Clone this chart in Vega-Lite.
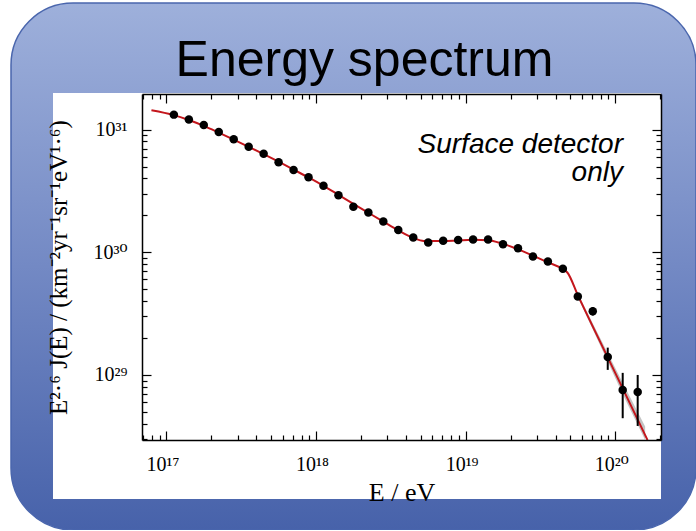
{
  "$schema": "https://vega.github.io/schema/vega-lite/v6.json",
  "background": "white",
  "padding": {"left": 11, "top": 3, "right": 0, "bottom": 0},
  "autosize": {"type": "pad"},
  "width": 685,
  "height": 527,
  "view": {
    "fill": {"gradient": "linear", "x1": 0, "y1": 0, "x2": 0, "y2": 1,
      "stops": [{"offset": 0, "color": "#9eb0db"}, {"offset": 0.5, "color": "#7389c4"}, {"offset": 1, "color": "#4762aa"}]},
    "stroke": "#4a66ad",
    "strokeWidth": 1.5,
    "cornerRadius": 62
  },
  "title": {"text": "Energy spectrum", "font": "Liberation Sans", "fontSize": 50, "fontWeight": "normal", "color": "black", "anchor": "middle", "frame": "group", "dx": 11, "offset": -123, "baseline": "alphabetic"},
  "datasets": {
    "points": [
      {"E": 1.122e17, "J": 1.324e31}, {"E": 1.413e17, "J": 1.208e31}, {"E": 1.778e17, "J": 1.091e31},
      {"E": 2.239e17, "J": 9.57e30}, {"E": 2.818e17, "J": 8.34e30}, {"E": 3.548e17, "J": 7.26e30},
      {"E": 4.467e17, "J": 6.34e30}, {"E": 5.623e17, "J": 5.41e30}, {"E": 7.079e17, "J": 4.69e30},
      {"E": 8.913e17, "J": 4.08e30}, {"E": 1.122e18, "J": 3.49e30}, {"E": 1.413e18, "J": 2.91e30},
      {"E": 1.778e18, "J": 2.35e30}, {"E": 2.239e18, "J": 2.11e30}, {"E": 2.818e18, "J": 1.78e30},
      {"E": 3.548e18, "J": 1.52e30}, {"E": 4.467e18, "J": 1.32e30}, {"E": 5.623e18, "J": 1.2e30},
      {"E": 7.079e18, "J": 1.24e30}, {"E": 8.913e18, "J": 1.26e30}, {"E": 1.122e19, "J": 1.27e30},
      {"E": 1.413e19, "J": 1.27e30}, {"E": 1.778e19, "J": 1.16e30}, {"E": 2.239e19, "J": 1.08e30},
      {"E": 2.818e19, "J": 9.25e29}, {"E": 3.548e19, "J": 8.41e29}, {"E": 4.467e19, "J": 7.33e29},
      {"E": 5.623e19, "J": 4.36e29},
      {"E": 7.079e19, "J": 3.31e29, "lo": 3.05e29, "hi": 3.58e29},
      {"E": 8.913e19, "J": 1.4e29, "lo": 1.1e29, "hi": 1.67e29},
      {"E": 1.122e20, "J": 7.55e28, "lo": 4.44e28, "hi": 1.04e29},
      {"E": 1.413e20, "J": 7.26e28, "lo": 3.84e28, "hi": 1.0e29}
    ],
    "fit": [
      {"E": 7.943e16, "J": 1.439e31}, {"E": 1.122e17, "J": 1.312e31}, {"E": 1.413e17, "J": 1.197e31},
      {"E": 1.778e17, "J": 1.072e31}, {"E": 2.239e17, "J": 9.44e30}, {"E": 2.818e17, "J": 8.28e30},
      {"E": 3.548e17, "J": 7.24e30}, {"E": 4.467e17, "J": 6.31e30}, {"E": 5.623e17, "J": 5.47e30},
      {"E": 7.079e17, "J": 4.72e30}, {"E": 8.913e17, "J": 4.07e30}, {"E": 1.122e18, "J": 3.48e30},
      {"E": 1.413e18, "J": 2.94e30}, {"E": 1.778e18, "J": 2.48e30}, {"E": 2.239e18, "J": 2.1e30},
      {"E": 2.818e18, "J": 1.78e30}, {"E": 3.548e18, "J": 1.51e30}, {"E": 4.467e18, "J": 1.31e30},
      {"E": 5.248e18, "J": 1.236e30}, {"E": 7.079e18, "J": 1.236e30}, {"E": 8.913e18, "J": 1.25e30},
      {"E": 1.122e19, "J": 1.262e30}, {"E": 1.413e19, "J": 1.253e30}, {"E": 1.778e19, "J": 1.17e30},
      {"E": 2.239e19, "J": 1.059e30}, {"E": 2.818e19, "J": 9.38e29}, {"E": 3.548e19, "J": 8.28e29},
      {"E": 4.467e19, "J": 7.28e29}, {"E": 4.786e19, "J": 6.84e29}, {"E": 5.623e19, "J": 4.47e29},
      {"E": 1.0e20, "J": 1.04e29}, {"E": 1.644e20, "J": 2.95e28}
    ],
    "band": [
      {"E": 5.623e19, "lo": 4.3e29, "hi": 4.62e29},
      {"E": 7.943e19, "lo": 1.74e29, "hi": 1.99e29},
      {"E": 1.122e20, "lo": 6.95e28, "hi": 8.65e28},
      {"E": 1.585e20, "lo": 2.95e28, "hi": 3.8e28}
    ],
    "note": [{"label": "Surface detector\nonly"}],
    "panel": [{"part": "figure"}]
  },
  "resolve": {"axis": {"x": "independent", "y": "independent"}},
  "layer": [
    {
      "data": {"name": "panel"},
      "mark": {"type": "rect", "color": "white", "opacity": 1},
      "encoding": {
        "x": {"datum": 1.746e16, "type": "quantitative", "scale": {"type": "log", "domain": [6.87e16, 2.023e20], "range": [131, 650], "nice": false}, "axis": null},
        "x2": {"datum": 2.023e20},
        "y": {"datum": 9.76e27, "type": "quantitative", "scale": {"type": "log", "domain": [2.95e28, 1.95e31], "range": [437, 91], "nice": false}, "axis": null},
        "y2": {"datum": 1.986e31}
      }
    },
    {
      "data": {"name": "band"},
      "mark": {"type": "area", "color": "#bdbdbd", "opacity": 0.9},
      "encoding": {
        "x": {"field": "E", "type": "quantitative",
          "scale": {"type": "log", "domain": [6.87e16, 2.023e20], "range": [131, 650], "nice": false},
          "axis": {"orient": "bottom", "offset": -90, "zindex": 1,
            "values": [7e16, 8e16, 9e16, 1e17, 2e17, 3e17, 4e17, 5e17, 6e17, 7e17, 8e17, 9e17, 1e18, 2e18, 3e18, 4e18, 5e18, 6e18, 7e18, 8e18, 9e18, 1e19, 2e19, 3e19, 4e19, 5e19, 6e19, 7e19, 8e19, 9e19, 1e20, 2e20],
            "tickSize": {"condition": {"test": "abs(log(datum.value)/LN10-round(log(datum.value)/LN10))<0.001", "value": -9}, "value": -5},
            "tickColor": "black", "tickWidth": 1.2, "domainColor": "black", "domainWidth": 1.5, "grid": false,
            "labelExpr": "abs(log(datum.value)/LN10-round(log(datum.value)/LN10))>0.001 ? '' : '10' + (round(log(datum.value)/LN10)==17 ? '¹⁷' : round(log(datum.value)/LN10)==18 ? '¹⁸' : round(log(datum.value)/LN10)==19 ? '¹⁹' : '²⁰')",
            "labelFont": "'Liberation Serif', 'DejaVu Serif', serif", "labelFontSize": 20, "labelColor": "black", "labelPadding": 23, "labelOffset": -4,
            "labelOverlap": false, "labelFlush": false,
            "title": "E / eV", "titleFont": "Liberation Serif", "titleFontSize": 26, "titleFontWeight": "normal", "titleColor": "black", "titlePadding": 1}},
        "y": {"field": "lo", "type": "quantitative",
          "scale": {"type": "log", "domain": [2.95e28, 1.95e31], "range": [437, 91], "nice": false},
          "axis": {"orient": "left", "offset": -131, "zindex": 1,
            "values": [3e28, 4e28, 5e28, 6e28, 7e28, 8e28, 9e28, 1e29, 2e29, 3e29, 4e29, 5e29, 6e29, 7e29, 8e29, 9e29, 1e30, 2e30, 3e30, 4e30, 5e30, 6e30, 7e30, 8e30, 9e30, 1e31],
            "tickSize": {"condition": {"test": "abs(log(datum.value)/LN10-round(log(datum.value)/LN10))<0.001", "value": -9}, "value": -5},
            "tickColor": "black", "tickWidth": 1.2, "domainColor": "black", "domainWidth": 1.5, "grid": false,
            "labelExpr": "abs(log(datum.value)/LN10-round(log(datum.value)/LN10))>0.001 ? '' : '10' + (round(log(datum.value)/LN10)==29 ? '²⁹' : round(log(datum.value)/LN10)==30 ? '³⁰' : '³¹')",
            "labelFont": "'Liberation Serif', 'DejaVu Serif', serif", "labelFontSize": 20, "labelColor": "black", "labelPadding": 24,
            "labelOverlap": false, "labelFlush": false, "labelBaseline": "middle",
            "title": "E²·⁶ J(E) / (km⁻²yr⁻¹sr⁻¹eV¹·⁶)", "titleFont": "Liberation Serif", "titleFontSize": 25, "titleFontWeight": "normal", "titleColor": "black", "titlePadding": 21}},
        "y2": {"field": "hi"}
      }
    },
    {
      "data": {"name": "fit"},
      "mark": {"type": "line", "color": "#c4161c", "strokeWidth": 2, "interpolate": "monotone"},
      "encoding": {
        "x": {"field": "E", "type": "quantitative", "scale": {"type": "log", "domain": [6.87e16, 2.023e20], "range": [131, 650], "nice": false}, "axis": null},
        "y": {"field": "J", "type": "quantitative", "scale": {"type": "log", "domain": [2.95e28, 1.95e31], "range": [437, 91], "nice": false}, "axis": null}
      }
    },
    {
      "data": {"name": "points"},
      "transform": [{"filter": "isValid(datum.lo)"}],
      "mark": {"type": "rule", "color": "black", "strokeWidth": 2},
      "encoding": {
        "x": {"field": "E", "type": "quantitative", "scale": {"type": "log", "domain": [6.87e16, 2.023e20], "range": [131, 650], "nice": false}, "axis": null},
        "y": {"field": "lo", "type": "quantitative", "scale": {"type": "log", "domain": [2.95e28, 1.95e31], "range": [437, 91], "nice": false}, "axis": null},
        "y2": {"field": "hi"}
      }
    },
    {
      "data": {"name": "points"},
      "mark": {"type": "circle", "size": 72, "color": "black", "opacity": 1},
      "encoding": {
        "x": {"field": "E", "type": "quantitative",
          "scale": {"type": "log", "domain": [6.87e16, 2.023e20], "range": [131, 650], "nice": false},
          "axis": {"orient": "top", "offset": -91, "zindex": 1,
            "values": [7e16, 8e16, 9e16, 1e17, 2e17, 3e17, 4e17, 5e17, 6e17, 7e17, 8e17, 9e17, 1e18, 2e18, 3e18, 4e18, 5e18, 6e18, 7e18, 8e18, 9e18, 1e19, 2e19, 3e19, 4e19, 5e19, 6e19, 7e19, 8e19, 9e19, 1e20, 2e20],
            "tickSize": {"condition": {"test": "abs(log(datum.value)/LN10-round(log(datum.value)/LN10))<0.001", "value": -9}, "value": -5},
            "tickColor": "black", "tickWidth": 1.2, "domainColor": "black", "domainWidth": 1.5, "grid": false,
            "labels": false, "title": null}},
        "y": {"field": "J", "type": "quantitative",
          "scale": {"type": "log", "domain": [2.95e28, 1.95e31], "range": [437, 91], "nice": false},
          "axis": {"orient": "right", "offset": -35, "zindex": 1,
            "values": [3e28, 4e28, 5e28, 6e28, 7e28, 8e28, 9e28, 1e29, 2e29, 3e29, 4e29, 5e29, 6e29, 7e29, 8e29, 9e29, 1e30, 2e30, 3e30, 4e30, 5e30, 6e30, 7e30, 8e30, 9e30, 1e31],
            "tickSize": {"condition": {"test": "abs(log(datum.value)/LN10-round(log(datum.value)/LN10))<0.001", "value": -9}, "value": -5},
            "tickColor": "black", "tickWidth": 1.2, "domainColor": "black", "domainWidth": 1.5, "grid": false,
            "labels": false, "title": null}}
      }
    },
    {
      "data": {"name": "note"},
      "mark": {"type": "text", "align": "right", "baseline": "alphabetic", "font": "Liberation Sans", "fontSize": 28, "fontStyle": "italic", "lineHeight": 28.5, "lineBreak": "\n", "color": "black"},
      "encoding": {
        "x": {"datum": 1.127e20, "type": "quantitative", "scale": {"type": "log", "domain": [6.87e16, 2.023e20], "range": [131, 650], "nice": false}, "axis": null},
        "y": {"datum": 6.46e30, "type": "quantitative", "scale": {"type": "log", "domain": [2.95e28, 1.95e31], "range": [437, 91], "nice": false}, "axis": null},
        "text": {"field": "label"}
      }
    }
  ]
}
